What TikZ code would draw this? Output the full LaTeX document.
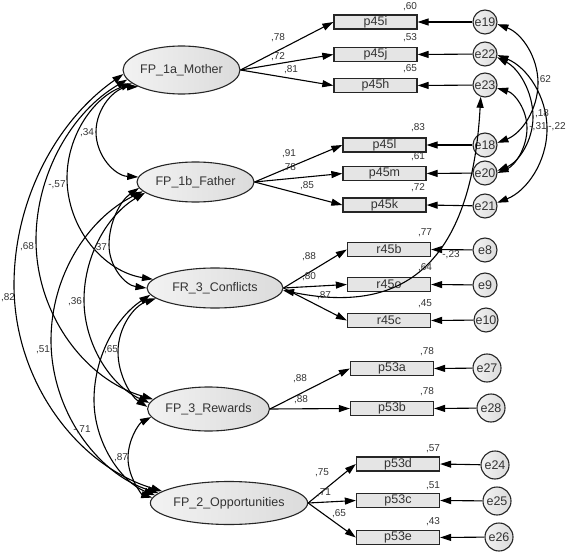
\documentclass[tikz,border=0pt]{standalone}
\usepackage{fontspec}
\setmainfont{Liberation Sans}
\usetikzlibrary{shapes.geometric,arrows.meta}
\begin{document}
\begin{tikzpicture}[x=1pt,y=-1pt,
  shd/.style={left color=gray!10,right color=gray!28},
  lat/.style={ellipse,draw=black!85,line width=1.1pt,shd,inner sep=0pt,font=\fontsize{12.5}{14}\selectfont,text=black!80},
  obs/.style={rectangle,draw=black!85,line width=1.3pt,fill=gray!20,minimum width=83pt,minimum height=14pt,inner sep=0pt,font=\fontsize{12.5}{13}\selectfont,text=black!80},
  err/.style={circle,draw=black!85,line width=1.1pt,shd,inner sep=0pt,minimum size=24pt,font=\fontsize{12.5}{14}\selectfont,text=black!80},
  bigerr/.style={err,minimum size=28pt},
  ld/.style={line width=1.1pt,-{Triangle[length=11pt,width=7pt]}},
  cov/.style={line width=1.1pt,{Triangle[length=11pt,width=7pt]}-{Triangle[length=11pt,width=7pt]}},
  lab/.style={font=\fontsize{10}{11}\selectfont,text=black!80,inner sep=0pt}
]
\useasboundingbox (0,0) rectangle (567,553);

% latent variables
\node[lat,minimum width=110pt,minimum height=48pt] (M) at (181.5,70) {FP\_1a\_Mother};
\node[lat,minimum width=117pt,minimum height=40pt] (F) at (195.5,182) {FP\_1b\_Father};
\node[lat,minimum width=136pt,minimum height=40pt] (C) at (215,288) {FR\_3\_Conflicts};
\node[lat,minimum width=113pt,minimum height=44pt] (R) at (208.5,409) {FP\_3\_Rewards};
\node[lat,minimum width=138pt,minimum height=43pt] (O) at (229,503) {FP\_2\_Opportunities};

% observed variables
\node[obs] (p45i) at (375.5,22) {p45i};
\node[obs] (p45j) at (375.5,54.5) {p45j};
\node[obs] (p45h) at (375.5,85.5) {p45h};
\node[obs] (p45l) at (384.5,145) {p45l};
\node[obs] (p45m) at (384.5,173.5) {p45m};
\node[obs] (p45k) at (384.5,205) {p45k};
\node[obs] (r45b) at (389,249.5) {r45b};
\node[obs] (r45o) at (389,284.5) {r45o};
\node[obs] (r45c) at (389,320.5) {r45c};
\node[obs] (p53a) at (392,368.5) {p53a};
\node[obs] (p53b) at (392,408.5) {p53b};
\node[obs] (p53d) at (398,464) {p53d};
\node[obs] (p53c) at (398,500.5) {p53c};
\node[obs] (p53e) at (398,537.5) {p53e};

% error terms
\node[err] (e19) at (485,22) {e19};
\node[err] (e22) at (485,54) {e22};
\node[err] (e23) at (485,85) {e23};
\node[err] (e18) at (485,145) {e18};
\node[err] (e20) at (485,173) {e20};
\node[err] (e21) at (485,206) {e21};
\node[err] (e8) at (485,250) {e8};
\node[err] (e9) at (485,285) {e9};
\node[err] (e10) at (486,320) {e10};
\node[bigerr] (e27) at (487,368) {e27};
\node[bigerr] (e28) at (491,408) {e28};
\node[bigerr] (e24) at (495,465) {e24};
\node[bigerr] (e25) at (497,501) {e25};
\node[bigerr] (e26) at (499,537) {e26};

% loadings
\draw[ld] (M.east) -- (p45i.west);
\draw[ld] (M.east) -- (p45j.west);
\draw[ld] (M.east) -- (p45h.west);
\draw[ld] (F.east) -- (p45l.west);
\draw[ld] (F.east) -- (p45m.west);
\draw[ld] (F.east) -- (p45k.west);
\draw[ld] (C.east) -- (r45b.west);
\draw[ld] (C.east) -- (r45o.west);
\draw[ld] (C.east) -- (r45c.west);
\draw[ld] (R.east) -- (p53a.west);
\draw[ld] (R.east) -- (p53b.west);
\draw[ld] (O.east) -- (p53d.west);
\draw[ld] (O.east) -- (p53c.west);
\draw[ld] (O.east) -- (p53e.west);

% error paths
\foreach \e/\v in {e19/p45i,e22/p45j,e23/p45h,e18/p45l,e20/p45m,e21/p45k,e8/r45b,e9/r45o,e10/r45c,e27/p53a,e28/p53b,e24/p53d,e25/p53c,e26/p53e}
  \draw[ld] (\e) -- (\v.east);

% covariances between latent variables
\draw[cov] (M.201) .. controls (115.2,87.5) and (96,107.6) .. (96,132) .. controls (96,155.9) and (114.9,175.7) .. (F.175);
\draw[cov] (M.195) .. controls (93.8,97.1) and (67,135.3) .. (67,178) .. controls (67,228.4) and (103.9,271.5) .. (C.172);
\draw[cov] (M.190) .. controls (72.1,111.7) and (36,173.5) .. (36,240) .. controls (36,314.4) and (85.4,379.8) .. (R.170);
\draw[cov] (M.184) .. controls (56.2,121) and (14,200.2) .. (14,285) .. controls (14,380.9) and (76.9,465.2) .. (O.170);
\draw[cov] (F.186) .. controls (120.5,200.6) and (109,222.1) .. (109,245) .. controls (109,266.9) and (125.3,285.3) .. (C.180);
\draw[cov] (F.192) .. controls (107.5,214.8) and (84,255.7) .. (84,300) .. controls (84,345.4) and (111.8,386.4) .. (R.174);
\draw[cov] (F.190) .. controls (86.9,219.1) and (51,276.8) .. (51,340) .. controls (51,411.2) and (97.7,473.8) .. (O.172);
\draw[cov] (C.190) .. controls (133.6,306.1) and (118,327.7) .. (118,352) .. controls (118,375.4) and (131.3,396.7) .. (R.178);
\draw[cov] (C.186) .. controls (115.5,317.9) and (94,357.6) .. (94,400) .. controls (94,443.7) and (122.1,482.4) .. (O.174);
\draw[cov] (R.188) .. controls (138.7,423.7) and (128,439.9) .. (128,458) .. controls (128,477.7) and (142.3,494.8) .. (O.176);

% covariances between error terms
\draw[cov] (e19.-10) .. controls (521.5,33.1) and (538,56.7) .. (538,83) .. controls (538,109.6) and (521.6,133.4) .. (e18.10);
\draw[cov] (e22.-5) .. controls (527.1,67.1) and (547,96.5) .. (547,129) .. controls (547,161.7) and (527,191) .. (e21.15);
\draw[cov] (e22.-15) .. controls (518.9,68.7) and (533,91.9) .. (533,117) .. controls (533,140.6) and (518.7,162) .. (e20.10);
\draw[cov] (e23.-15) .. controls (514.5,93) and (527,109.4) .. (527,128) .. controls (527,147.7) and (515.2,165.4) .. (e20.0);
\draw[cov] (e23.250) .. controls (470,290) and (380,310) .. (C.358);

% loading labels
\node[lab] (l1) at (278,38) {,78};
\node[lab] (l2) at (278,57) {,72};
\node[lab] (l3) at (291,70) {,81};
\node[lab] (l4) at (289,154) {,91};
\node[lab] (l5) at (289,168) {,78};
\node[lab] (l6) at (307,186) {,85};
\node[lab] (l7) at (309,257) {,88};
\node[lab] (l8) at (309,277) {,80};
\node[lab] (l9) at (324,296) {,87};
\node[lab] (l10) at (300,379) {,88};
\node[lab] (l11) at (301,400) {,88};
\node[lab] (l12) at (322,473) {,75};
\node[lab] (l13) at (324,493) {,71};
\node[lab] (l14) at (339,514) {,65};

% squared multiple correlations
\node[lab] (r1) at (410,7) {,60};
\node[lab] (r2) at (410,38) {,53};
\node[lab] (r3) at (410,69) {,65};
\node[lab] (r4) at (418,128) {,83};
\node[lab] (r5) at (418,157) {,61};
\node[lab] (r6) at (418,188) {,72};
\node[lab] (r7) at (425,233) {,77};
\node[lab] (r8) at (425,268) {,64};
\node[lab] (r9) at (425,304) {,45};
\node[lab] (r10) at (427,352) {,78};
\node[lab] (r11) at (427,392) {,78};
\node[lab] (r12) at (433,449) {,57};
\node[lab] (r13) at (433,486) {,51};
\node[lab] (r14) at (433,522) {,43};

% covariance labels
\node[lab] (c1) at (87,133) {,34};
\node[lab] (c2) at (57,185) {-,57};
\node[lab] (c3) at (27,247) {,68};
\node[lab] (c4) at (8,298) {,82};
\node[lab] (c5) at (100,248) {,37};
\node[lab] (c6) at (75,302) {,36};
\node[lab] (c7) at (43,350) {,51};
\node[lab] (c8) at (111,350) {,65};
\node[lab] (c9) at (82,430) {-,71};
\node[lab] (c10) at (121,458) {,87};
\node[lab] (c11) at (544,80) {,62};
\node[lab] (c12) at (542,114) {,18};
\node[lab] (c13) at (538,127) {-,31};
\node[lab] (c14) at (557,127) {-,22};
\node[lab] (c15) at (451,255) {-,23};
\end{tikzpicture}
\end{document}
